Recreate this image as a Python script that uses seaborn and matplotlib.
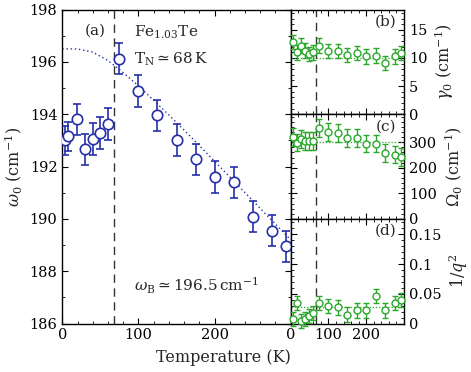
import numpy as np
import matplotlib
matplotlib.use("Agg")
import matplotlib.pyplot as plt
import seaborn as sns
from matplotlib.ticker import MultipleLocator, FixedLocator, FormatStrFormatter

# ---- data ----
temp_a = [3, 8, 19, 30, 40, 50, 60, 75, 100, 125, 150, 175, 200, 225, 251, 276, 294]
omega0 = [193.0, 193.15, 193.8, 192.65, 193.05, 193.28, 193.63, 196.12, 194.88,
          193.95, 193.02, 192.27, 191.6, 191.4, 190.08, 189.55, 188.95]
omega0_err = [0.55, 0.55, 0.6, 0.6, 0.6, 0.6, 0.6, 0.6, 0.6, 0.6, 0.6, 0.6,
              0.6, 0.6, 0.6, 0.6, 0.6]

temp_fit = [0, 20, 40, 60, 80, 100, 120, 140, 160, 180, 200, 220, 240, 260, 280, 300]
omega_fit = [196.50, 196.49, 196.37, 196.05, 195.59, 195.08, 194.53, 193.97,
             193.39, 192.80, 192.20, 191.60, 191.00, 190.40, 189.80, 189.20]

temp_r = [6, 17, 28, 39, 49, 60, 75, 100, 125, 150, 175, 200, 226, 251, 277, 292]
gamma0 = [12.8, 11.0, 12.2, 11.3, 10.7, 11.0, 12.2, 11.2, 11.2, 10.5, 10.9,
          10.3, 10.4, 9.1, 10.3, 10.9]
gamma0_err = [1.3] * 16
Omega0 = [319, 299, 312, 305, 305, 305, 355, 339, 335, 315, 315, 295, 295,
          258, 252, 242]
Omega0_err = [35] * 16
inv_q2 = [0.007, 0.035, 0.004, 0.008, 0.013, 0.018, 0.035, 0.029, 0.027,
          0.015, 0.022, 0.022, 0.046, 0.022, 0.035, 0.040]
inv_q2_err = [0.012] * 16

gamma0_mean = 10.0
Omega0_mean = 300
inv_q2_mean = 0.028
T_N = 68

x_ticks = [0, 100, 200]
gamma_ticks = [0, 5, 10, 15]
Omega_ticks = [0, 100, 200, 300]
q_ticks = [0, 0.05, 0.1, 0.15]

blue = "#2530a8"
green = "#2aa82a"

sns.set_style("ticks")
plt.rcParams["font.family"] = ["DejaVu Serif"]
plt.rcParams["mathtext.fontset"] = "dejavuserif"
plt.rcParams["font.size"] = 10.5

fig = plt.figure(figsize=(4.71, 3.72), dpi=100)
W, H = 471.0, 372.0
top, bot = 9.5, 323.5
ax_a = fig.add_axes([62.3 / W, 1 - bot / H, (290.7 - 62.3) / W, (bot - top) / H])
hh = (bot - top) / 3
axes_r = []
for i in range(3):
    y1 = top + (i + 1) * hh
    axes_r.append(fig.add_axes([290.7 / W, 1 - y1 / H, (404 - 290.7) / W, hh / H]))
ax_b, ax_c, ax_d = axes_r


def style(ax):
    ax.tick_params(which="both", direction="in", top=True, right=True,
                   labelsize=10.5, colors="black")
    ax.tick_params(which="major", length=4.5, width=0.8)
    ax.tick_params(which="minor", length=2.5, width=0.6)
    for s in ax.spines.values():
        s.set_linewidth(1.0)
        s.set_color("black")


# panel (a)
sns.lineplot(x=temp_fit, y=omega_fit, ax=ax_a, color=blue, linestyle=(0, (1, 2)),
             linewidth=1.0)
ax_a.errorbar(temp_a, omega0, yerr=omega0_err, fmt="o", mfc="white", mec=blue,
              ecolor=blue, ms=7.5, mew=1.2, capsize=3, elinewidth=1.2, capthick=1.2,
              zorder=3)
ax_a.axvline(T_N, color="#333333", linestyle=(0, (6, 4)), linewidth=1.0)
ax_a.set_xlim(0, 300)
ax_a.set_ylim(186, 198)
ax_a.xaxis.set_major_locator(FixedLocator(x_ticks))
ax_a.xaxis.set_minor_locator(MultipleLocator(20))
ax_a.yaxis.set_major_locator(MultipleLocator(2))
ax_a.yaxis.set_minor_locator(MultipleLocator(1))
style(ax_a)
ax_a.set_ylabel(r"$\omega_0$ (cm$^{-1}$)", fontsize=11.5, labelpad=4)
ax_a.text(0.1, 0.955, "(a)", transform=ax_a.transAxes, ha="left", va="top", fontsize=11)
ax_a.text(0.315, 0.955, r"Fe$_{1.03}$Te", transform=ax_a.transAxes, ha="left", va="top",
          fontsize=11)
ax_a.text(0.315, 0.87, r"T$_\mathrm{N}\simeq 68\,$K", transform=ax_a.transAxes,
          ha="left", va="top", fontsize=11)
ax_a.text(0.315, 0.12, r"$\omega_\mathrm{B}\simeq 196.5\,$cm$^{-1}$",
          transform=ax_a.transAxes, ha="left", va="center", fontsize=11)

# right panels
panels = [
    (ax_b, gamma0, gamma0_err, gamma0_mean, (0, 18.6), gamma_ticks, 1, "(b)",
     r"$\gamma_0$ (cm$^{-1}$)"),
    (ax_c, Omega0, Omega0_err, Omega0_mean, (0, 410), Omega_ticks, 20, "(c)",
     r"$\Omega_0$ (cm$^{-1}$)"),
    (ax_d, inv_q2, inv_q2_err, inv_q2_mean, (0, 0.176), q_ticks, 0.01, "(d)",
     r"$1/q^2$"),
]
for ax, vals, errs, mean, ylim, maj, mnr, lab, ylab in panels:
    ax.axhline(mean, color=green, linestyle=(0, (1, 1.5)), linewidth=0.9)
    ax.errorbar(temp_r, vals, yerr=errs, fmt="o", mfc="white", mec=green,
                ecolor=green, ms=5, mew=1.0, capsize=2.5, elinewidth=1.0,
                capthick=1.0, zorder=3, clip_on=False)
    ax.axvline(T_N, color="#333333", linestyle=(0, (6, 4)), linewidth=1.0)
    ax.set_xlim(0, 300)
    ax.set_ylim(*ylim)
    ax.xaxis.set_major_locator(FixedLocator(x_ticks))
    ax.xaxis.set_minor_locator(MultipleLocator(20))
    ax.yaxis.set_major_locator(FixedLocator(maj))
    ax.yaxis.set_minor_locator(MultipleLocator(mnr))
    ax.yaxis.set_major_formatter(FormatStrFormatter("%g"))
    style(ax)
    ax.tick_params(labelleft=False, labelright=True)
    ax.yaxis.set_label_position("right")
    ax.set_ylabel(ylab, fontsize=11.5, labelpad=4)
    ax.text(0.93, 0.95, lab, transform=ax.transAxes, ha="right", va="top", fontsize=11)
    if ax is not ax_d:
        ax.tick_params(labelbottom=False)

fig.text(223 / W, 1 - 358 / H, "Temperature (K)", ha="center", va="center", fontsize=11.5)

fig.savefig("out.png", dpi=100)
